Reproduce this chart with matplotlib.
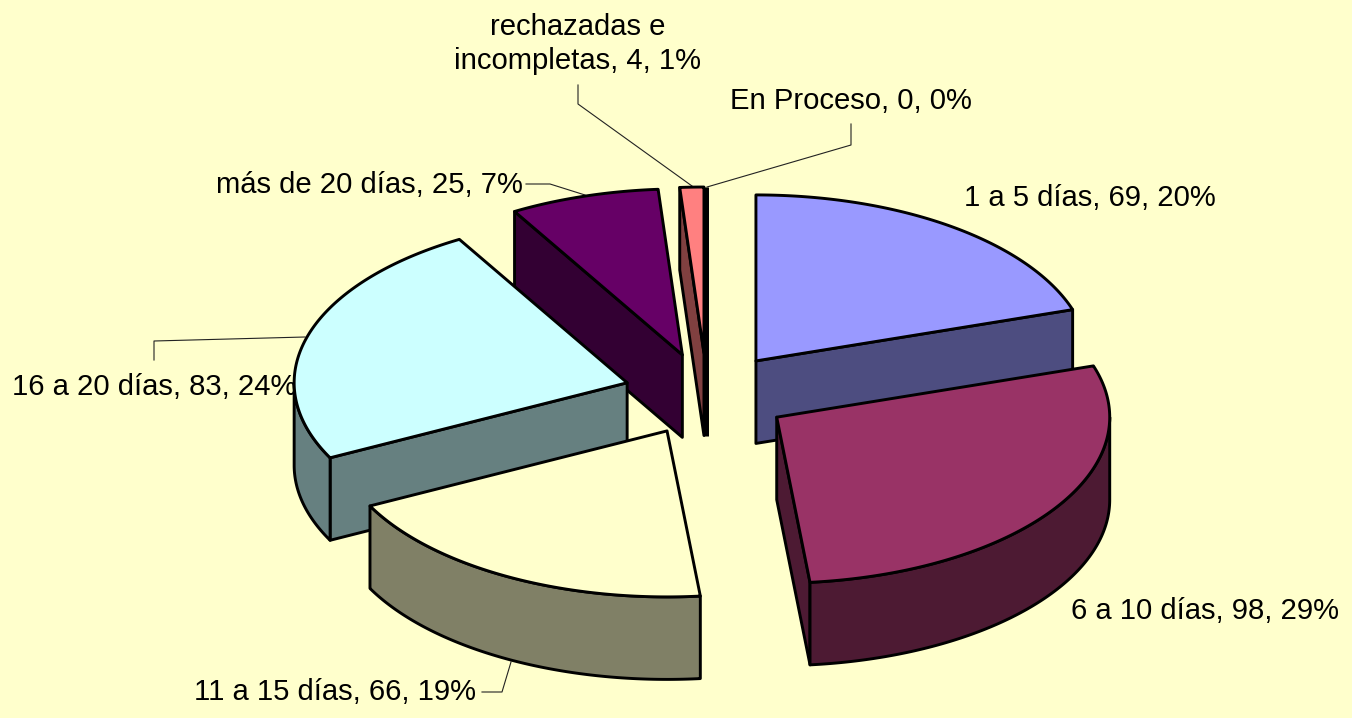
import numpy as np
import matplotlib
matplotlib.use("Agg")
import matplotlib.pyplot as plt
from matplotlib.patches import Polygon

categories = ["1 a 5 días", "6 a 10 días", "11 a 15 días", "16 a 20 días",
              "más de 20 días", "rechazadas e\nincompletas", "En Proceso"]
values = [69, 98, 66, 83, 25, 4, 0]
percents = [20, 29, 19, 24, 7, 1, 0]
top_colors = ["#9999FF", "#993366", "#FFFFCC", "#CCFFFF", "#660066", "#FF8080", "#FFFFFF"]
side_colors = ["#4D4D80", "#4D1A33", "#808066", "#668080", "#330033", "#804040", "#808080"]
draw_order = [6, 5, 4, 0, 3, 2, 1]
label_pos = [(1090, 198), (1205, 611), (335, 692), (154.5, 387), (369, 185), (578, 44), (850.5, 101)]
leaders = [None, None,
           [(482, 692), (502, 692), (511, 662)],
           [(154, 360), (154, 341), (305, 337)],
           [(526, 184), (550, 184), (585, 195)],
           [(578, 85), (578, 104), (692, 186)],
           [(851, 124), (851, 145), (707, 187)]]

BG = "#FFFFCC"
CX, CY, RX, RY, DEPTH, EXPLODE = 707.0, 394.5, 333.0, 166.0, 82.5, 0.25

fig = plt.figure(figsize=(13.52, 7.18), dpi=100, facecolor=BG)
ax = fig.add_axes([0, 0, 1, 1])
ax.set_xlim(0, 1352)
ax.set_ylim(718, 0)
ax.axis("off")

total = sum(values)
edges = np.radians(np.concatenate([[0], np.cumsum(values)]) * 360.0 / total)


def rim(t, apex):
    return np.column_stack([apex[0] + RX * np.sin(t), apex[1] - RY * np.cos(t)])


def face(pts, color, z):
    ax.add_patch(Polygon(pts, closed=True, facecolor=color, edgecolor="black",
                         linewidth=2.1, joinstyle="round", zorder=z))


down = np.array([0, DEPTH])
for z, i in enumerate(draw_order):
    t0, t1 = edges[i], edges[i + 1]
    mid = (t0 + t1) / 2
    apex = np.array([CX + EXPLODE * RX * np.sin(mid), CY - EXPLODE * RY * np.cos(mid)])
    ts = np.linspace(t0, t1, 200)
    zz = 5 + z
    # radial cut faces that look towards the viewer
    for t, visible in ((t0, np.sin(t0) < -1e-6), (t1, np.sin(t1) > 1e-6)):
        if visible:
            p = rim(np.array([t]), apex)[0]
            face([apex, p, p + down, apex + down], side_colors[i], zz)
    # outer wall: only the front half of the ellipse
    lo, hi = max(t0, np.pi / 2), min(t1, 3 * np.pi / 2)
    if hi > lo:
        r = rim(np.linspace(lo, hi, 200), apex)
        face(np.vstack([r, (r + down)[::-1]]), side_colors[i], zz)
    # top face
    if t1 > t0:
        face(np.vstack([[apex], rim(ts, apex)]), top_colors[i], zz)
    else:
        # a slice of value 0 collapses to one thick edge
        p = rim(np.array([t0]), apex)[0]
        ax.plot([p[0] - 1, p[0] - 1], [p[1], apex[1] + DEPTH], color="black", lw=3.6,
                solid_capstyle="butt", zorder=zz)

for i, name in enumerate(categories):
    ax.text(*label_pos[i], f"{name}, {values[i]}, {percents[i]}%", ha="center", va="center",
            fontsize=21.1, family="Liberation Sans", color="black", zorder=1, linespacing=1.3)
    if leaders[i]:
        xs, ys = zip(*leaders[i])
        ax.plot(xs, ys, color="#222222", lw=0.8, zorder=2)

fig.savefig("out.png", dpi=100, facecolor=BG)
